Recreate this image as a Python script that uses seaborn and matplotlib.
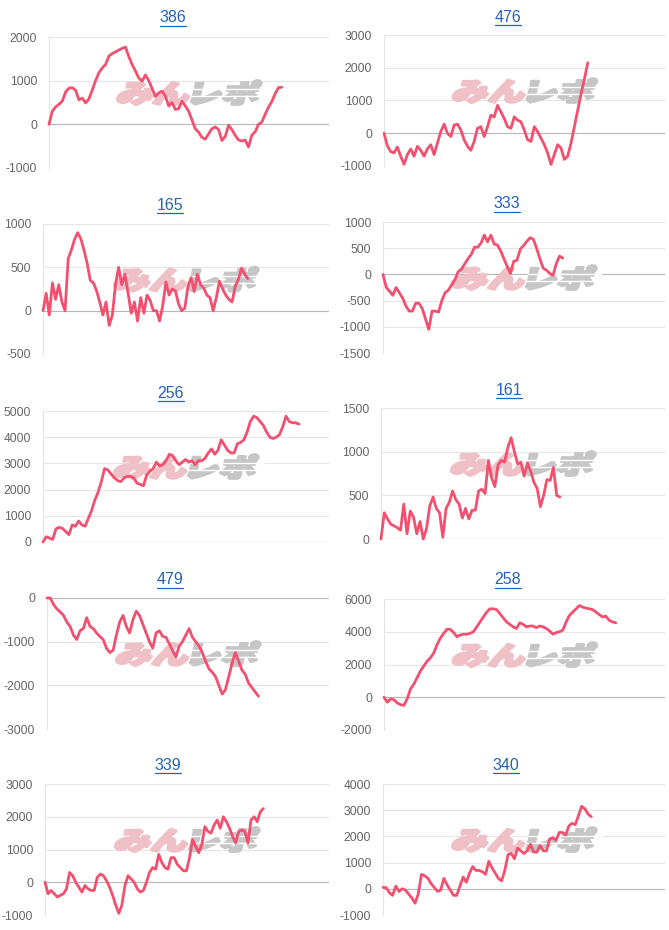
import numpy as np
import pandas as pd
import matplotlib
matplotlib.use("Agg")
import matplotlib.pyplot as plt
import seaborn as sns
from matplotlib.textpath import TextPath
from matplotlib.font_manager import FontProperties
from matplotlib.patches import PathPatch
from matplotlib.path import Path
from matplotlib.transforms import Affine2D, ScaledTranslation
from matplotlib.lines import Line2D

# ---------------- data ----------------
machines = ["386", "476", "165", "333", "256", "161", "479", "258", "339", "340"]
games_played = [6650, 5800, 5730, 5100, 7160, 5040, 6000, 6600, 6150, 5910]
GAME_AXIS_MAX = 8000

s386 = [0, 300, 400, 460, 530, 740, 830, 840, 780, 560, 600, 490, 580, 780, 1000, 1180, 1290, 1370,
        1560, 1620, 1660, 1700, 1740, 1770, 1550, 1370, 1220, 1060, 990, 1130, 1000, 820, 640, 720,
        760, 650, 420, 500, 340, 360, 530, 420, 300, 100, -100, -180, -300, -340, -220, -100, -60,
        -120, -370, -280, -20, -120, -250, -360, -380, -360, -520, -250, -170, 0, 50, 230, 390, 520,
        700, 840, 850]
s476 = [0, -380, -560, -600, -420, -700, -950, -650, -480, -700, -400, -520, -700, -480, -350, -650,
        -300, 50, 280, 0, -100, 250, 280, 100, -200, -400, -520, -250, 150, 200, -100, 200, 550, 500,
        850, 650, 450, 200, 150, 500, 400, 350, 100, -200, -250, 200, 50, -150, -350, -600, -950,
        -650, -350, -450, -800, -700, -300, 200, 700, 1200, 1650, 2150]
s165 = [0, 200, -50, 320, 130, 300, 100, 0, 600, 700, 820, 900, 830, 700, 550, 350, 320, 230, 100,
        -50, 100, -170, -50, 300, 500, 300, 420, 200, -30, 100, -120, 150, -30, 180, 120, 0, 0, -120,
        60, 330, 180, 250, 230, 80, 0, 30, 280, 380, 220, 420, 300, 260, 180, 150, 0, 150, 340, 250,
        180, 130, 100, 280, 360, 490, 420, 370]
s333 = [0, -250, -320, -400, -250, -350, -450, -600, -700, -700, -550, -550, -650, -850, -1050, -700,
        -700, -720, -500, -350, -300, -200, -100, 50, 100, 200, 300, 380, 520, 520, 600, 750, 620,
        750, 580, 560, 450, 300, 150, 20, 250, 270, 480, 550, 630, 700, 670, 500, 300, 120, 80, 20,
        -20, 200, 350, 310]
s256 = [0, 200, 150, 100, 500, 560, 520, 400, 280, 650, 600, 800, 650, 600, 900, 1200, 1600, 1900,
        2300, 2800, 2750, 2600, 2450, 2350, 2300, 2450, 2500, 2500, 2450, 2250, 2200, 2150, 2550,
        2700, 2800, 3050, 2900, 2950, 3100, 3350, 3300, 3100, 2950, 3050, 3150, 3050, 3100, 2950,
        3100, 3100, 3200, 3400, 3550, 3350, 3500, 3900, 3700, 3500, 3400, 3400, 3750, 3800, 3900,
        4200, 4600, 4800, 4750, 4600, 4450, 4200, 4000, 3950, 4000, 4100, 4400, 4800, 4600, 4550,
        4550, 4500]
s161 = [0, 300, 230, 170, 150, 130, 100, 400, 60, 320, 250, 60, 200, 0, 120, 380, 480, 350, 300, 20,
        350, 420, 550, 450, 400, 240, 350, 230, 330, 330, 550, 570, 520, 900, 700, 600, 850, 900,
        880, 1050, 1160, 1000, 860, 880, 720, 870, 780, 650, 580, 370, 500, 680, 670, 820, 500, 480]
s479 = [0, 0, -150, -250, -320, -400, -550, -650, -850, -950, -750, -700, -450, -650, -700, -800,
        -880, -950, -1150, -1250, -1200, -850, -550, -400, -650, -800, -500, -300, -400, -600, -800,
        -1000, -1150, -800, -750, -880, -900, -1050, -1200, -1350, -1100, -1000, -850, -700, -900,
        -1000, -1100, -1250, -1450, -1620, -1700, -1800, -2000, -2200, -2100, -1800, -1500, -1250,
        -1450, -1650, -1750, -1950, -2050, -2150, -2250]
s258 = [0, -300, -100, -150, -350, -450, -500, -100, 500, 800, 1200, 1600, 1900, 2200, 2400, 2700,
        3200, 3600, 3900, 4150, 4150, 3950, 3700, 3800, 3850, 3850, 3900, 4000, 4300, 4600, 4900,
        5200, 5400, 5400, 5350, 5100, 4850, 4600, 4450, 4300, 4200, 4550, 4450, 4300, 4350, 4350,
        4250, 4350, 4300, 4200, 4050, 3850, 3950, 4000, 4100, 4600, 5000, 5200, 5400, 5600, 5500,
        5450, 5400, 5350, 5200, 5050, 4900, 4950, 4700, 4600, 4550]
s339 = [0, -350, -250, -350, -450, -400, -350, -200, 300, 200, 0, -150, -300, -100, -200, -250, -250,
        150, 250, 200, 50, -150, -400, -700, -950, -700, -100, 200, 100, 0, -200, -300, -250, 0, 300,
        450, 400, 850, 600, 450, 400, 750, 750, 550, 450, 350, 350, 750, 1300, 1100, 900, 1150, 1700,
        1550, 1500, 1750, 1900, 1650, 2000, 1850, 1650, 1400, 1200, 1550, 1600, 1550, 1200, 1900,
        2000, 1850, 2150, 2250]
s340 = [50, 50, -150, -250, 100, -100, 0, -50, -200, -350, -550, -200, 550, 500, 400, 200, 50, -100,
        -50, 400, 150, -50, -250, -250, 100, 450, 250, 600, 850, 700, 700, 650, 550, 1050, 800, 600,
        400, 300, 700, 1300, 1350, 1150, 1550, 1450, 1350, 1450, 1700, 1400, 1400, 1650, 1450, 1450,
        1900, 1950, 1850, 2150, 2150, 2050, 2400, 2500, 2450, 2800, 3150, 3050, 2850, 2750]

series = [s386, s476, s165, s333, s256, s161, s479, s258, s339, s340]

y_min = [-1000, -1000, -500, -1500, 0, 0, -3000, -2000, -1000, -1000]
y_max = [2000, 3000, 1000, 1000, 5000, 1500, 0, 6000, 3000, 4000]
y_step = [1000, 1000, 500, 500, 1000, 500, 1000, 2000, 1000, 1000]

# ---------------- layout (pixels) ----------------
W, H = 669, 930
ax_left = [49, 384, 43, 383, 43, 381, 47, 384, 45, 383]
ax_right = [329, 665] * 5
ax_top = [37, 35, 224, 222, 411, 408, 598, 599, 784, 784]
ax_bottom = [168, 166, 354, 353, 542, 539, 729, 730, 915, 915]
title_x = [173, 508, 170, 507, 171, 509, 170, 508, 168, 506]
title_y = [18, 17, 205, 204, 393, 390, 580, 580, 765, 765]

LINE_COLOR = "#f2506e"
GRID_COLOR = "#e6e6e6"
ZERO_COLOR = "#b8b8b8"
TICK_COLOR = "#666666"
TITLE_COLOR = "#2563b8"

sns.set_theme(style="white")
plt.rcParams["font.family"] = ["Liberation Sans", "DejaVu Sans"]
plt.rcParams["axes.unicode_minus"] = False

fig = plt.figure(figsize=(W / 100, H / 100), dpi=100)
fig.patch.set_facecolor("white")

logo_fp = FontProperties(family=["Noto Sans CJK JP"], weight="black")


def add_logo(ax):
    p1 = TextPath((0, 0), "みん", size=30, prop=logo_fp)
    e1 = p1.get_extents()
    p2 = TextPath((0, 0), "レポ", size=30, prop=logo_fp)
    e2 = p2.get_extents()
    p2 = Affine2D().translate(e1.x1 + 3 - e2.x0, 0).transform_path(p2)
    e2 = p2.get_extents()
    x0, x1 = e1.x0, e2.x1
    y0, y1 = min(e1.y0, e2.y0), max(e1.y1, e2.y1)
    cx, cy = (x0 + x1) / 2, (y0 + y1) / 2
    sx = 140 / (x1 - x0)
    sy = 24 / (y1 - y0)
    tr = (Affine2D().translate(-cx, -cy).scale(sx, sy).skew_deg(14, 0)
          + ScaledTranslation(0.5, 0.575, ax.transAxes))
    ax.add_patch(PathPatch(p1, transform=tr, facecolor="#efc0c5", edgecolor="#efc0c5",
                           lw=2.2, joinstyle="round", zorder=1.5, clip_on=False))
    ax.add_patch(PathPatch(p2, transform=tr, facecolor="#c6c6c6", edgecolor="#c6c6c6",
                           lw=2.2, joinstyle="round", zorder=1.5, clip_on=False))
    # speed-line gaps across the grey part
    for fy in (0.36, 0.64):
        yy = y0 + fy * (y1 - y0)
        stripe = Path([(e2.x0 - 2, yy), (e2.x1 + 6, yy)])
        ax.add_patch(PathPatch(stripe, transform=tr, edgecolor="white", lw=1.0,
                               facecolor="none", zorder=1.6, clip_on=False))


for i, name in enumerate(machines):
    L, R, T, B = ax_left[i], ax_right[i], ax_top[i], ax_bottom[i]
    ax = fig.add_axes([L / W, 1 - B / H, (R - L) / W, (B - T) / H])
    vals = series[i]
    df = pd.DataFrame({"games": np.linspace(0, games_played[i], len(vals)), "diff": vals})
    add_logo(ax)
    sns.lineplot(data=df, x="games", y="diff", ax=ax, color=LINE_COLOR, linewidth=2.0,
                 zorder=3, clip_on=False)
    ax.set_xlim(0, GAME_AXIS_MAX)
    ax.set_ylim(y_min[i], y_max[i])
    ax.set_yticks(np.arange(y_min[i], y_max[i] + 1, y_step[i]))
    ax.set_xticks([])
    ax.set_xlabel("")
    ax.set_ylabel("")
    ax.grid(axis="y", color=GRID_COLOR, linewidth=0.8, zorder=0)
    ax.axhline(0, color=ZERO_COLOR, linewidth=0.8, zorder=1)
    for s in ("top", "right", "bottom"):
        ax.spines[s].set_visible(False)
    ax.spines["left"].set_color(GRID_COLOR)
    ax.spines["left"].set_linewidth(0.8)
    ax.tick_params(axis="y", length=7, width=0.8, color=GRID_COLOR, pad=1.5,
                   labelsize=8.7, labelcolor=TICK_COLOR)
    ax.set_facecolor("none")

    fig.text(title_x[i] / W, 1 - title_y[i] / H, name, ha="center", va="center",
             color=TITLE_COLOR, fontsize=11.5)

renderer = fig.canvas.get_renderer()
for t in list(fig.texts):
    bb = t.get_window_extent(renderer)
    yline = bb.y0 - 0.5
    fig.add_artist(Line2D([bb.x0 / W, bb.x1 / W], [yline / H, yline / H],
                          color=TITLE_COLOR, linewidth=0.9, transform=fig.transFigure))

fig.savefig("out.png", dpi=100)
